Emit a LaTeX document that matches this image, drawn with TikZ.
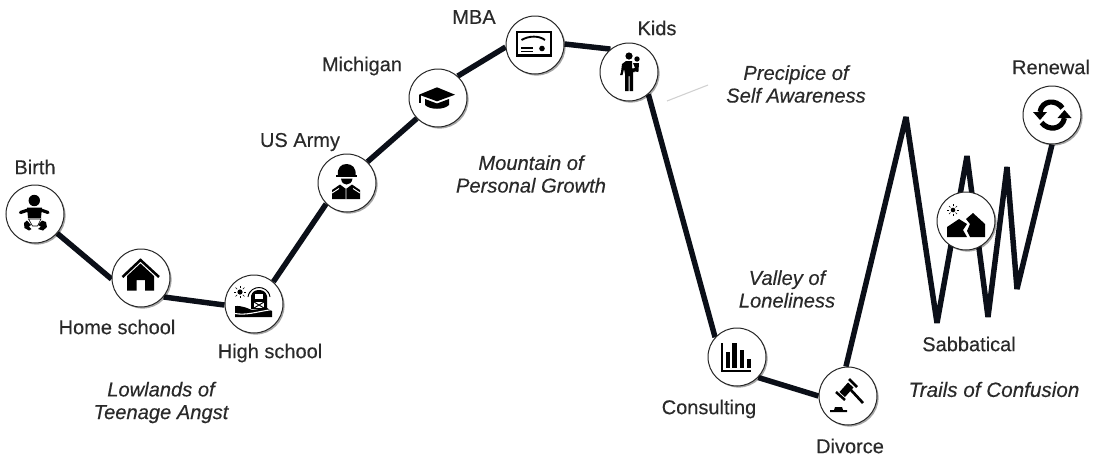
\documentclass[tikz,border=0pt]{standalone}
\usepackage{fontspec}
\setmainfont[UprightFeatures={FakeBold=0.25},ItalicFeatures={FakeBold=0.3}]{Liberation Sans}
\usetikzlibrary{shadows,backgrounds}
\definecolor{ink}{HTML}{0B0F18}
\definecolor{txt}{HTML}{2A2A2A}
\tikzset{
  stop/.style={circle,draw=black!85,line width=0.75pt,fill=white,minimum size=43.5pt,inner sep=0pt,
    drop shadow={shadow xshift=1.2pt,shadow yshift=-1.2pt,opacity=.35,fill=black}},
  lab/.style={text=txt,font=\fontsize{15}{18}\selectfont,inner sep=0pt},
  region/.style={text=txt,font=\fontsize{15.1}{17}\selectfont\itshape,align=center,inner sep=0pt},
  path line/.style={draw=ink,line width=4.1pt,line join=bevel},
  leader/.style={draw=black!18,line width=0.8pt},
  ic/.style={fill=black,draw=none},
  icl/.style={draw=black,fill=none}
}
\begin{document}
\begin{tikzpicture}[x=0.75pt,y=-0.75pt]
\useasboundingbox (0,0) rectangle (1110,462);
% stops
\node[stop] (birth) at (35,214) {};
\node[stop] (home) at (141,278) {};
\node[stop] (high) at (254,304) {};
\node[stop] (army) at (347,183) {};
\node[stop] (mich) at (438,98) {};
\node[stop] (mba) at (535,45) {};
\node[stop] (kids) at (629,72) {};
\node[stop] (cons) at (737,357) {};
\node[stop] (div) at (848,396) {};
\node[stop] (sab) at (966,221) {};
\node[stop] (ren) at (1052,115) {};
\coordinate (z1) at (906,117);
\coordinate (z2) at (937,323);
\coordinate (z3) at (967,156);
\coordinate (z4) at (988,317);
\coordinate (z5) at (1007,167);
\coordinate (z6) at (1017,289);
\coordinate (p1) at (667,101);
\coordinate (p2) at (708,85);
\begin{pgfonlayer}{background}
\fill[white] (0,0) rectangle (1110,462);
\draw[path line] (birth.-41) -- (home.182);
\draw[path line] (home.-40) -- (high.182);
\draw[path line] (high.49) -- (army.225);
\draw[path line] (army.46) -- (mich.224);
\draw[path line] (mich.48) -- (mba.184);
\draw[path line] (mba.2) -- (kids.129);
\draw[path line] (kids.-49) -- (cons.138);
\draw[path line] (cons.-44) -- (div.180);
\draw[path line] (div.94) -- (z1) -- (z2) -- (z3) -- (z4) -- (z5) -- (z6) -- (ren.-90);
\draw[leader] (p1) -- (p2);
\end{pgfonlayer}
% labels
\node[lab] (lbirth) at (35,167) {Birth};
\node[lab] (lhome) at (117,327) {Home school};
\node[lab] (lhigh) at (270,353) {High school};
\node[lab] (larmy) at (300,142) {US Army};
\node[lab] (lmich) at (362,66) {Michigan};
\node[lab] (lmba) at (474,17) {MBA};
\node[lab] (lkids) at (657,28) {Kids};
\node[lab] (lren) at (1051,67) {Renewal};
\node[lab] (lsab) at (969,344) {Sabbatical};
\node[lab] (lcons) at (709,409) {Consulting};
\node[lab] (ldiv) at (850,446) {Divorce};
\node[region] (r1) at (161,402.5) {Lowlands of\\Teenage Angst};
\node[region] (r2) at (531,174) {Mountain of\\Personal Growth};
\node[region] (r3) at (796,84) {Precipice of\\Self Awareness};
\node[region] (r4) at (787,289) {Valley of\\Loneliness};
\node[region,font=\fontsize{15.5}{17}\selectfont\itshape] (r5) at (994,389.5) {Trails of Confusion};
% baby
\begin{scope}[shift={(birth)}]
\fill[ic] (-0.7,-13.5) circle (5.7);
\draw[icl,line width=2.4pt,line cap=round,line join=round] (-14.5,-1.5) -- (-7,-4) -- (6,-4) -- (13,-1.5);
\fill[ic] (-8,-6.5) -- (7,-6.5) -- (6,4) -- (-7,4) -- cycle;
\fill[ic] (-8,6.5) -- (-11,9) -- (-10.5,14) -- (-6,16.5) -- (-3.5,15) -- (-6,12.5) -- (-4,11) -- cycle;
\fill[ic] (7,6.5) -- (11,8) -- (12,13) -- (8,16.5) -- (3,15) -- (6,12.5) -- (3,11) -- cycle;
\draw[black,line width=.45pt] (-6.5,5) -- (6,5) -- (2.5,12) -- (-2.5,12) -- cycle;
\end{scope}
% house
\begin{scope}[shift={(home)}]
\draw[icl,line width=1.9pt,miter limit=4] (-18.5,-1) -- (-0.5,-18) -- (18,-1);
\fill[ic] (-14,-2) -- (-0.5,-14.5) -- (13,-2) -- (13,12.5) -- (4,12.5) -- (4,2) -- (-4.5,2) -- (-4.5,12.5) -- (-14,12.5) -- cycle;
\end{scope}
% barn
\begin{scope}[shift={(high)}]
\fill[ic] (-14,-12) circle (2.6);
\foreach \a in {0,45,...,315}{\draw[black,line width=.5pt] (-14,-12) ++(\a:3pt) -- ++(\a:1.7pt);}
\fill[ic] (-19,2) .. controls (-11,1.5) and (-5,5) .. (-2,6) -- (13,4) -- (18,7) -- (18,13) -- (-19,13) -- cycle;
\draw[white,line width=.8pt] (-19,9.5) .. controls (-8,11.5) and (2,8) .. (18,5.5);
\fill[ic] (-3,-8) .. controls (-2,-12) and (1,-14) .. (5,-14) .. controls (9,-14) and (12,-12) .. (13,-8) -- (13,5) -- (-3,5) -- cycle;
\draw[icl,line width=.7pt] (-6,-7) .. controls (-5,-14) and (1,-16.5) .. (5,-16.5) .. controls (9,-16.5) and (15,-14) .. (16,-7);
\fill[white] (1,-10) rectangle (9,-5);
\fill[white] (0,-2) rectangle (10,4);
\draw[black,line width=.7pt] (0,-2) -- (10,4) (0,4) -- (10,-2);
\end{scope}
% soldier
\begin{scope}[shift={(army)}]
\fill[ic] (-9,-8) .. controls (-10,-15) and (-6,-19) .. (-0.5,-19) .. controls (5,-19) and (9.5,-15) .. (8.5,-8) -- cycle;
\fill[ic] (-11,-8.5) rectangle (10,-6.5);
\fill[ic] (-6,-4.5) .. controls (-5.5,0) and (-3,1.5) .. (-0.5,1.5) .. controls (2,1.5) and (5,0) .. (5.5,-4.5) -- cycle;
\fill[ic] (-15,7) -- (-7,1.5) -- (-1,6) -- (5,1.5) -- (13,7) -- (13,16) -- (-15,16) -- cycle;
\draw[white,line width=.7pt] (-15,10) -- (-8,5.5) (13,10) -- (6,5.5) (-1,6) -- (-1,16);
\end{scope}
% cap
\begin{scope}[shift={(mich)}]
\fill[ic] (-19,-3.3) -- (-1,-10.7) -- (17,-3.3) -- (-1,3.3) -- cycle;
\fill[ic] (-13,1) -- (-1,5.5) -- (11,1) -- (11,7) .. controls (6,12) and (-8,12) .. (-13,7) -- cycle;
\draw[black,line width=.8pt] (-18,-3) -- (-18,5);
\end{scope}
% diploma
\begin{scope}[shift={(mba)}]
\draw[icl,line width=1.7pt] (-18,-13) rectangle (16,10.5);
\draw[icl,line width=1.4pt] (-13.5,-5) .. controls (-6,-9.5) and (4,-9.5) .. (10,-5);
\draw[icl,line width=.9pt] (-14,3) -- (-2,3) (-14,6.5) -- (-2,6.5);
\fill[ic] (7,3.5) circle (2.8);
\end{scope}
% adult and child
\begin{scope}[shift={(kids)}]
\fill[ic] (0,-16) circle (3.6);
\fill[ic] (-8,0) -- (-9,3) -- (-6.5,3) -- (-5,-3) -- (-4,2) -- (-4,19) -- (-0.5,19) -- (-0.5,4) -- (0.5,4) -- (0.5,19) -- (4,19) -- (4,0) -- (6,0) -- (3,-4) -- (3,-11) -- (-3,-11) -- (-7,-8) -- cycle;
\fill[ic] (8,-13) circle (2.7);
\fill[ic] (4,-9) -- (10,-9) -- (9.5,-1) -- (9,0) -- (4,-1) -- (2,0) -- (1,-3) -- (6,-4) -- cycle;
\end{scope}
% chart
\begin{scope}[shift={(cons)}]
\draw[icl,line width=1.1pt] (-15,-14) -- (-15,14) -- (14,14);
\fill[ic] (-11.5,-5) rectangle (-7.5,10.5);
\fill[ic] (-5,-14) rectangle (-0.5,10.5);
\fill[ic] (2.5,-7) rectangle (6.5,10.5);
\fill[ic] (9.5,2) rectangle (13.5,10.5);
\end{scope}
% gavel
\begin{scope}[shift={(div)}]
\draw[icl,line width=1.9pt] (-12,-4) -- (-3,4) (1,-17) -- (9,-9);
\fill[ic] (-8.5,-4) -- (0,-13.5) -- (5.5,-8.5) -- (-3,1) -- cycle;
\draw[icl,line width=2pt] (2,-7) -- (15,7);
\fill[ic] (-18,16) -- (-18,14) -- (-14,14) -- (-13,11) -- (-6,11) -- (-5,14) -- (-1,14) -- (-1,16) -- cycle;
\end{scope}
% mountains
\begin{scope}[shift={(sab)}]
\fill[ic] (-13,-11) circle (2.3);
\foreach \a in {0,45,...,315}{\draw[black,line width=.4pt] (-13,-11) ++(\a:2.7pt) -- ++(\a:1.6pt);}
\fill[ic] (-19,16) -- (-19,6) -- (-7,-2) -- (1,3) -- (-3,9) -- (1,16) -- cycle;
\fill[ic] (0,-2) -- (7,-8) -- (19,3) -- (19,16) -- (4,16) -- (1,10) -- (4,3) -- cycle;
\end{scope}
% renewal
\begin{scope}[shift={(ren)}]
\draw[icl,line width=3.9pt] (10.5,-7) .. controls (4,-16) and (-10,-15) .. (-12,-3);
\fill[ic] (-19,-3) -- (-5,-3) -- (-12,5) -- cycle;
\draw[icl,line width=3.9pt] (-10.5,7.5) .. controls (-4,16) and (10,15) .. (12.5,3);
\fill[ic] (19.5,3) -- (5.5,3) -- (12.5,-5) -- cycle;
\end{scope}
\end{tikzpicture}
\end{document}
